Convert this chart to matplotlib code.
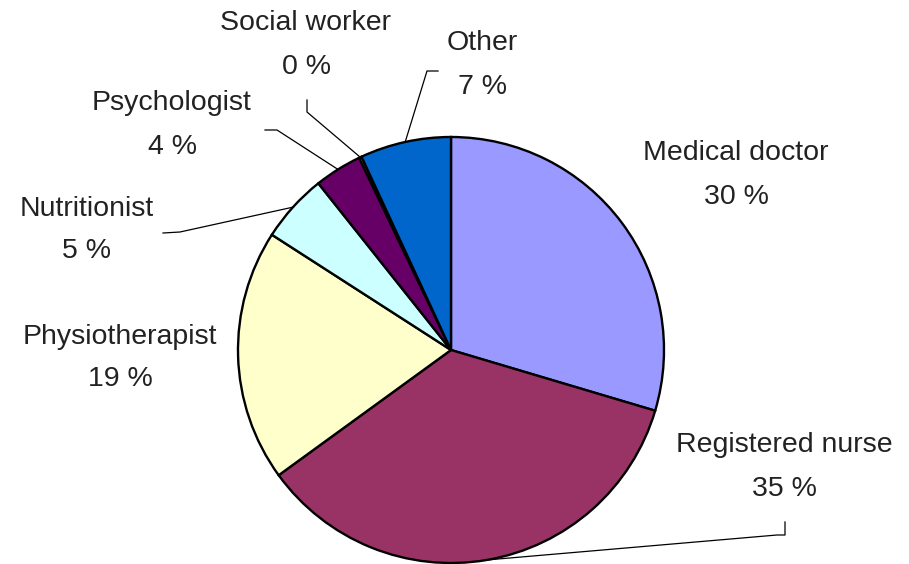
import numpy as np
import matplotlib
matplotlib.use("Agg")
import matplotlib.pyplot as plt

# Data (shares of professions, %)
categories = ["Medical doctor", "Registered nurse", "Physiotherapist",
              "Nutritionist", "Psychologist", "Social worker", "Other"]
shares = [29.6, 35.4, 19.1, 5.2, 3.6, 0.2, 6.9]
pct_labels = ["30 %", "35 %", "19 %", "5 %", "4 %", "0 %", "7 %"]
colors = ["#9999FF", "#993366", "#FFFFCC", "#CCFFFF", "#660066", "#FF8080", "#0066CC"]

W, H = 909, 564
CENTER = (451, H - 350)
RADIUS = 213

# label centres (pixel coords, y from top)
label_pos = [(736, 175), (784, 467), (120, 358), (87, 230),
             (172, 125), (306, 45), (482, 65)]
# leader-line elbows (pixel coords, y from top); None = no leader
leader_pts = [None,
              [(777, 535), (785, 535), (785, 522)],
              None,
              [(180, 232), (163, 233)],
              [(277, 130), (265, 130)],
              [(307, 112), (307, 100)],
              [(427, 71), (438, 71)]]

plt.rcParams['font.family'] = ['Liberation Sans', 'DejaVu Sans']

fig = plt.figure(figsize=(W / 100, H / 100), dpi=100)
ax = fig.add_axes([0, 0, 1, 1])

wedges, _ = ax.pie(shares, colors=colors, startangle=90, counterclock=False,
                   center=CENTER, radius=RADIUS, frame=True,
                   wedgeprops=dict(edgecolor='black', linewidth=1.7))
ax.set_xlim(0, W)
ax.set_ylim(0, H)
ax.set_aspect('equal')
ax.axis('off')

for i, w in enumerate(wedges):
    lx, ly = label_pos[i]
    ax.text(lx, H - ly, categories[i] + "\n" + pct_labels[i], ha='center', va='center',
            fontsize=20.5, color='#222222', linespacing=1.85)
    pts = leader_pts[i]
    if pts is None:
        continue
    mid = np.deg2rad((w.theta1 + w.theta2) / 2)
    sx = CENTER[0] + RADIUS * np.cos(mid)
    sy = CENTER[1] + RADIUS * np.sin(mid)
    xs = [sx] + [p[0] for p in pts]
    ys = [sy] + [H - p[1] for p in pts]
    ax.plot(xs, ys, color='black', linewidth=0.9)

fig.savefig("out.png", dpi=100)
